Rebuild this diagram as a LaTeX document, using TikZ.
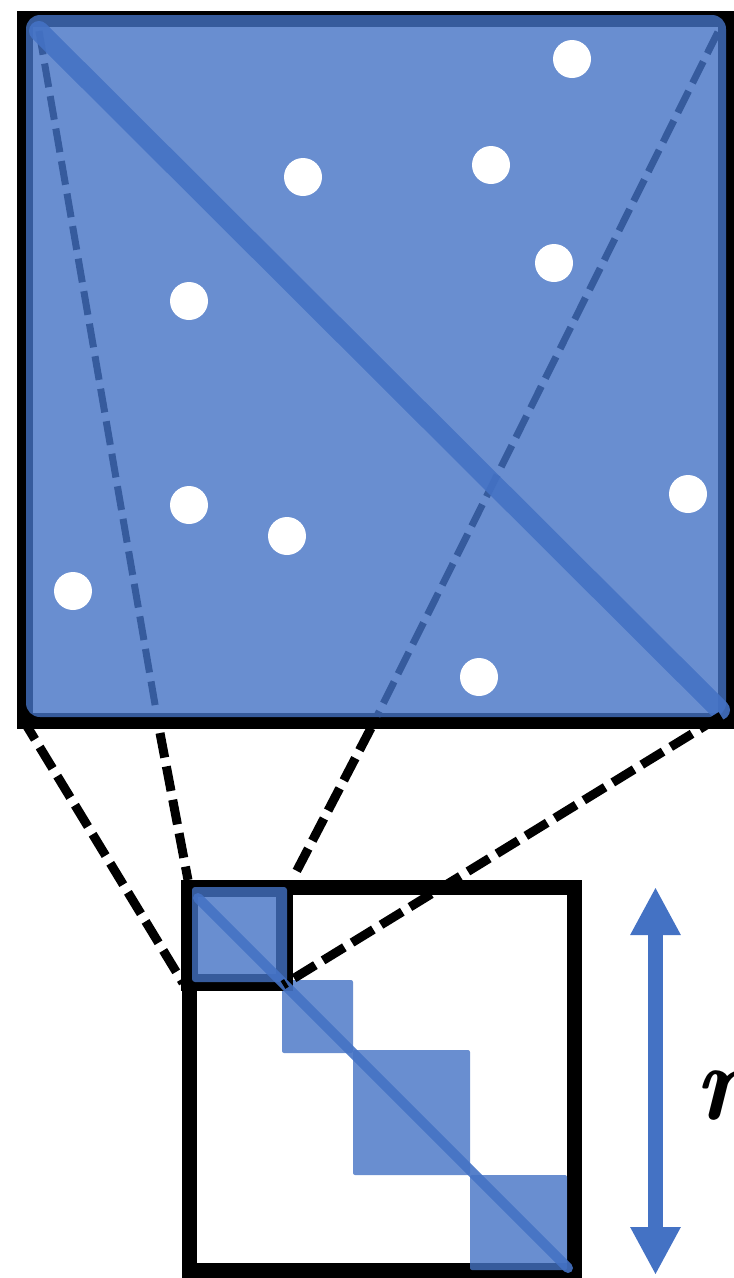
\documentclass[tikz,border=0pt]{standalone}
\usetikzlibrary{arrows.meta}
\definecolor{ublue}{HTML}{4472C4}
\definecolor{dblue}{HTML}{365B9D}
\tikzset{
  frame/.style={draw=black, line width=#1},
  bluefill/.style={fill=ublue, fill opacity=0.8},
  innerdash/.style={draw=dblue, line width=7pt, dash pattern=on 24pt off 9pt},
  zoomdash/.style={draw=black, line width=9pt, dash pattern=on 25pt off 9pt},
  diag/.style={draw=ublue, line cap=round, draw opacity=0.9},
  dot/.style={circle, fill=white, minimum size=38pt, inner sep=0pt},
  tipA/.style={ublue, line width=15pt, {Triangle[length=48pt,width=47pt]}-{Triangle[length=48pt,width=47pt]}},
}
\begin{document}
\begin{tikzpicture}[x=1pt,y=-1pt]
\useasboundingbox (0,0) rectangle (734,1278);
\clip (0,0) rectangle (734,1278);

% ---- large (zoomed) square ----
\draw[frame=16pt] (25,19) rectangle (725.5,720.5);
\fill[bluefill, rounded corners=14pt] (26,15) rectangle (726,717);
\coordinate (TL) at (39,31);
\coordinate (TR) at (718,32);
\coordinate (BR) at (720,710);
\coordinate (ia) at (157,716);
\coordinate (ib) at (377,716);
\draw[innerdash] (TL) -- (ia);
\draw[innerdash] (TR) -- (ib);
\draw[diag, line width=20pt] (TL) -- (BR);

\node[dot] (d1) at (572,59) {};
\node[dot] (d2) at (303,177) {};
\node[dot] (d3) at (491,165) {};
\node[dot] (d4) at (554,263) {};
\node[dot] (d5) at (189,301) {};
\node[dot] (d6) at (189,505) {};
\node[dot] (d7) at (287,536) {};
\node[dot] (d8) at (73,591) {};
\node[dot] (d9) at (688,494) {};
\node[dot] (d10) at (479,677) {};

% ---- small matrix ----
\draw[frame=15pt] (189,887) rectangle (574.5,1270.5);
\fill[bluefill, rounded corners=2pt] (282,980) rectangle (353,1053);
\fill[bluefill, rounded corners=2pt] (353,1050) rectangle (470,1175);
\fill[bluefill, rounded corners=2pt] (470,1175) rectangle (567,1270);
\draw[frame=17pt] (189,888) rectangle (284,982);
\fill[bluefill, rounded corners=3pt] (192,887) rectangle (287,982);
\coordinate (sd1) at (198,898);
\coordinate (sd2) at (568,1268);
\draw[diag, line width=10pt] (sd1) -- (sd2);

% ---- zoom connectors ----
\coordinate (bBL) at (22,718);
\coordinate (sBL) at (183,983);
\coordinate (b1) at (160,733);
\coordinate (s1) at (188,880);
\coordinate (b2) at (371,728);
\coordinate (s2) at (293,878);
\coordinate (bBR) at (721,716);
\coordinate (sBR) at (283,985);
\draw[zoomdash] (bBL) -- (sBL);
\draw[zoomdash] (b1) -- (s1);
\draw[zoomdash] (b2) -- (s2);
\draw[zoomdash] (bBR) -- (sBR);

% ---- size arrow and label ----
\coordinate (ra) at (655.5,887);
\coordinate (rb) at (655.5,1275);
\draw[tipA] (ra) -- (rb);
\node[anchor=base west, inner sep=0pt, font=\fontsize{108}{114}\selectfont\bfseries\itshape] (rl) at (694,1119) {r};
\end{tikzpicture}
\end{document}
